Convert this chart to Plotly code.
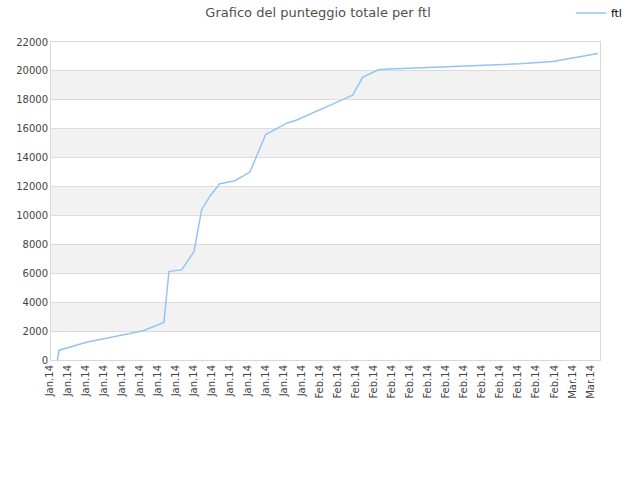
import plotly.graph_objects as go

# cumulative score for "ftl" (timestamps)
dates = [
    "2014-01-02 00:00", "2014-01-02 04:30", "2014-01-05 06:00", "2014-01-10 01:00",
    "2014-01-11 12:30", "2014-01-13 19:30", "2014-01-14 09:00", "2014-01-15 19:30",
    "2014-01-17 04:00", "2014-01-18 00:00", "2014-01-18 22:00", "2014-01-20 00:30",
    "2014-01-21 16:30", "2014-01-23 08:30", "2014-01-25 02:30", "2014-01-27 12:00",
    "2014-01-28 13:30", "2014-02-02 08:00", "2014-02-03 18:00", "2014-02-04 20:30",
    "2014-02-06 14:00", "2014-02-07 21:00", "2014-02-18 10:00", "2014-02-22 07:00",
    "2014-02-25 23:00", "2014-03-02 23:00",
]
scores = [
    0, 680, 1230, 1850,
    2020, 2590, 6120, 6250,
    7520, 10400, 11330, 12200,
    12400, 13000, 15600, 16400,
    16600, 17930, 18320, 19550,
    20080, 20140, 20370, 20490,
    20650, 21210,
]

y_ticks = list(range(0, 22001, 2000))
# alternating grey bands between gridlines
bands = [(2000, 4000), (6000, 8000), (10000, 12000), (14000, 16000), (18000, 20000)]

fig = go.Figure()
fig.add_trace(go.Scatter(x=dates, y=scores, mode="lines", name="ftl",
                         line=dict(color="#94c4f4", width=1.5)))

for y0, y1 in bands:
    fig.add_shape(type="rect", xref="paper", yref="y", x0=0, x1=1, y0=y0, y1=y1,
                  fillcolor="#f2f2f2", line_width=0, layer="below")

fig.update_layout(
    width=640, height=480,
    margin=dict(l=51, r=40, t=42, b=120, autoexpand=False),
    paper_bgcolor="white", plot_bgcolor="white",
    font=dict(family="DejaVu Sans", size=10, color="#444444"),
    title=dict(text="Grafico del punteggio totale per ftl", x=0.497, xanchor="center",
               y=1 - 12 / 480, yanchor="middle", font=dict(size=13, color="#505050")),
    showlegend=True,
    legend=dict(xref="container", yref="container", x=0.892, xanchor="left",
                y=1 - 13 / 480, yanchor="middle",
                font=dict(size=11, color="#000000"), bgcolor="rgba(0,0,0,0)"),
)
# labels sit a little left of their tick, as in the original
fig.update_xaxes(type="date", range=["2014-01-01 07:00", "2014-03-03 04:30"],
                 tick0="2014-01-02", dtick=2 * 86400000, tickformat="%b.%y",
                 tickangle=-90, ticklabelshift=-8, showgrid=False, showline=True,
                 linecolor="#d8d8d8", mirror=True, ticks="", zeroline=False,
                 automargin=False)
fig.update_yaxes(range=[0, 22000], tickvals=y_ticks, tickformat="d", showgrid=True,
                 gridcolor="#dcdcdc", showline=True, linecolor="#d8d8d8", mirror=True,
                 zeroline=False, automargin=False)

# drop the default body margin so the chart sits at the page corner
fig.write_html("out.html", config={"displayModeBar": False},
               post_script="document.body.style.margin='0';")
